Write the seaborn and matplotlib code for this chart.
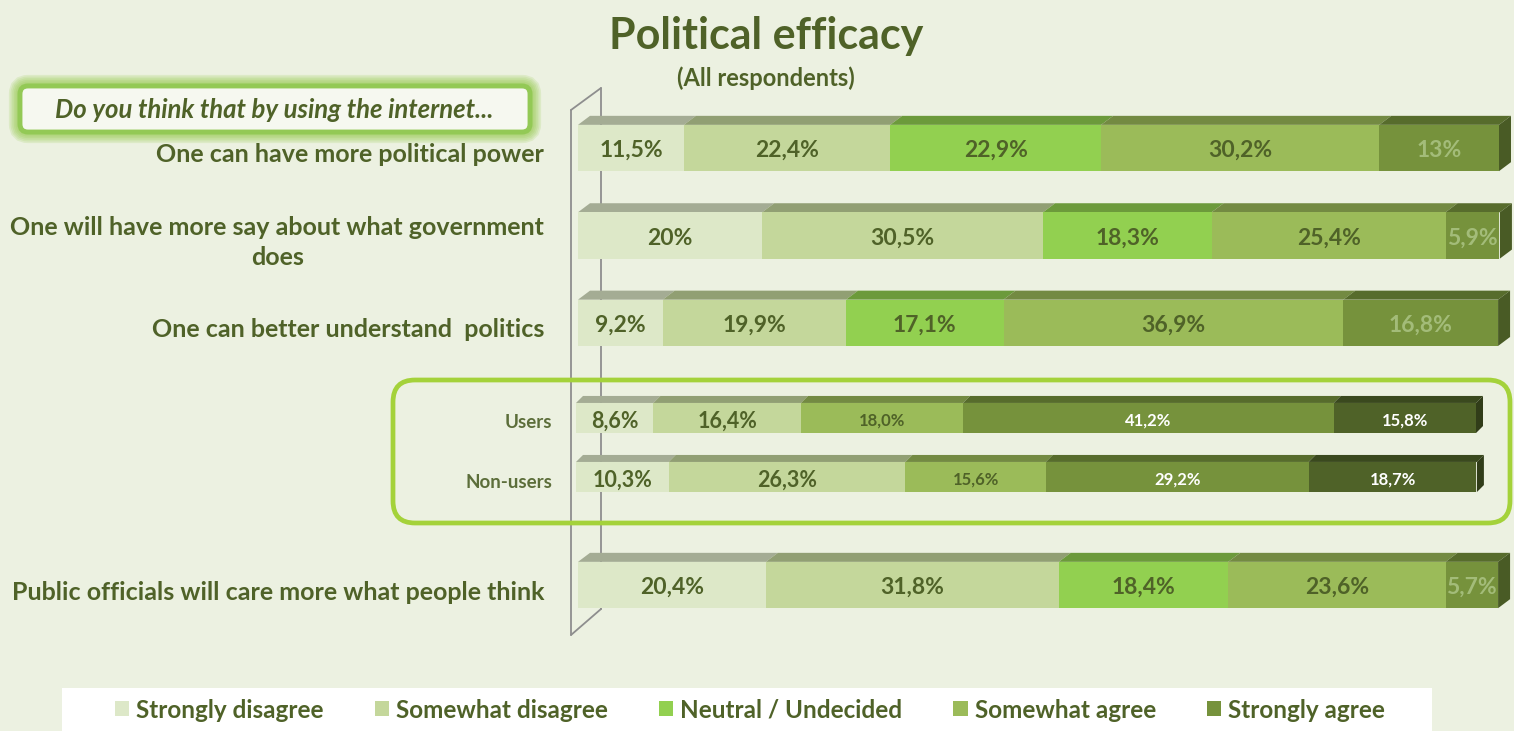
import matplotlib
matplotlib.use("Agg")
import matplotlib.pyplot as plt
from matplotlib.patches import Polygon, FancyBboxPatch, Rectangle, Patch
from matplotlib.lines import Line2D
import pandas as pd
import seaborn as sns

# ---- data -------------------------------------------------------------
levels = ["Strongly disagree", "Somewhat disagree", "Neutral / Undecided",
          "Somewhat agree", "Strongly agree"]

statements = ["One can have more political power",
              "One will have more say about what government\ndoes",
              "One can better understand  politics",
              "Public officials will care more what people think"]
more_power = [11.5, 22.4, 22.9, 30.2, 13.0]
more_say = [20.0, 30.5, 18.3, 25.4, 5.9]
understand = [9.2, 19.9, 17.1, 36.9, 16.8]
officials_care = [20.4, 31.8, 18.4, 23.6, 5.7]

groups = ["Users", "Non-users"]
users = [8.6, 16.4, 18.0, 41.2, 15.8]
non_users = [10.3, 26.3, 15.6, 29.2, 18.7]

main_colors = ["#DDE8C8", "#C4D79B", "#92D050", "#9BBB59", "#76923C"]
group_colors = ["#DDE8C8", "#C4D79B", "#9BBB59", "#76923C", "#4F6228"]

TEXT = "#4F6228"
BG = "#ECF1E1"

# ---- figure -----------------------------------------------------------
sns.set_theme(style="white")
plt.rcParams["font.family"] = ["Lato", "DejaVu Sans"]

W, H = 1514, 731
fig = plt.figure(figsize=(W / 100, H / 100), dpi=100, facecolor=BG)

# background layer in pixel units for frames and the chart wall
bg = fig.add_axes([0, 0, 1, 1], zorder=0)
bg.set_xlim(0, W)
bg.set_ylim(H, 0)
bg.axis("off")


def px_axes(left, right, top, bottom, z):
    return fig.add_axes([left / W, 1 - bottom / H, (right - left) / W,
                         (bottom - top) / H], zorder=z, facecolor="none")


def long_table(names, rows):
    recs = []
    for name, vals in zip(names, rows):
        start = 0.0
        for lvl, v in zip(levels, vals):
            recs.append(dict(item=name, level=lvl, value=v,
                             start=start, end=start + v))
            start += v
    return pd.DataFrame(recs)


def pct(v, keep_decimal):
    if not keep_decimal and float(v).is_integer():
        return f"{int(v)}%"
    return f"{v:.1f}".replace(".", ",") + "%"


def draw_stack(ax, df, order, colors, bar_h):
    # stacked bars: cumulative totals drawn from the longest to the shortest
    for i in reversed(range(len(levels))):
        sub = df[df["level"] == levels[i]]
        sns.barplot(data=sub, x="end", y="item", order=order, orient="h",
                    color=colors[i], saturation=1, width=bar_h,
                    edgecolor="none", linewidth=0, errorbar=None,
                    ax=ax, zorder=3)


def add_depth(ax, df, order, colors, bar_h, dx_px, dy_px):
    # top face and end face of each stacked bar, offset in pixels
    x0, y0 = ax.transData.transform((0, 0))
    inv = ax.transData.inverted()
    base = inv.transform((x0, y0))
    moved = inv.transform((x0 + dx_px, y0 + dy_px))
    ddx, ddy = moved[0] - base[0], moved[1] - base[1]
    h = bar_h / 2
    for _, r in df.iterrows():
        p = order.index(r["item"])
        i = levels.index(r["level"])
        c = matplotlib.colors.to_rgb(colors[i])
        top = tuple(v * 0.74 for v in c)
        yt = p - h
        ax.add_patch(Polygon([(r["start"], yt), (r["end"], yt),
                              (r["end"] + ddx, yt + ddy),
                              (r["start"] + ddx, yt + ddy)],
                             closed=True, fc=top, ec="none",
                             clip_on=False, zorder=2))
        if i == len(levels) - 1:
            side = tuple(v * 0.62 for v in c)
            ax.add_patch(Polygon([(r["end"], yt), (r["end"] + ddx, yt + ddy),
                                  (r["end"] + ddx, p + h + ddy),
                                  (r["end"], p + h)],
                                 closed=True, fc=side, ec="none",
                                 clip_on=False, zorder=2))


def clean(ax, xlim, ylim):
    ax.set_xlim(*xlim)
    ax.set_ylim(*ylim)
    ax.set_xticks([])
    ax.set_yticks([])
    ax.set_xlabel("")
    ax.set_ylabel("")
    for s in ax.spines.values():
        s.set_visible(False)


# ---- chart wall -------------------------------------------------------
wall = dict(color="#8E8E8E", lw=1.3, zorder=1)
bg.add_line(Line2D([571, 571], [110, 635], **wall))
bg.add_line(Line2D([571, 601], [110, 88], **wall))
bg.add_line(Line2D([601, 601], [88, 609], **wall))
bg.add_line(Line2D([571, 601], [635, 609], **wall))

# ---- main statements --------------------------------------------------
main_order = [statements[0], statements[1], statements[2], "", " ",
              statements[3]]
main_df = long_table(statements, [more_power, more_say, understand,
                                  officials_care])
ax = px_axes(578, 1499, 104.3, 628.7, 3)
draw_stack(ax, main_df, main_order, main_colors, 0.53)
clean(ax, (0, 100), (5.5, -0.5))
add_depth(ax, main_df, main_order, main_colors, 0.53, 12, 9)

for _, r in main_df.iterrows():
    p = main_order.index(r["item"])
    i = levels.index(r["level"])
    col = "#A3BC79" if i == 4 else TEXT
    ax.text((r["start"] + r["end"]) / 2, p + 0.03, pct(r["value"], False),
            ha="center", va="center", fontsize=16.5, fontweight="bold",
            color=col, zorder=5, clip_on=False)

for name in statements:
    p = main_order.index(name)
    ax.annotate(name, xy=(0, p), xycoords=("axes fraction", "data"),
                xytext=(-34 * 0.72, -7 * 0.72), textcoords="offset points",
                ha="right", va="center", multialignment="center",
                linespacing=1.35, fontsize=18, fontweight="bold", color=TEXT)

# ---- users vs non-users ----------------------------------------------
grp_df = long_table(groups, [users, non_users])
ax2 = px_axes(576, 1476, 388.5, 506.5, 3)
draw_stack(ax2, grp_df, groups, group_colors, 0.51)
clean(ax2, (0, 100), (1.5, -0.5))
add_depth(ax2, grp_df, groups, group_colors, 0.51, 7, 7)

for _, r in grp_df.iterrows():
    p = groups.index(r["item"])
    i = levels.index(r["level"])
    if i < 2:
        kw = dict(fontsize=15.5, color=TEXT)
    elif i == 2:
        kw = dict(fontsize=12, color=TEXT)
    else:
        kw = dict(fontsize=12, color="white")
    ax2.text((r["start"] + r["end"]) / 2, p + 0.05, pct(r["value"], True),
             ha="center", va="center", fontweight="bold", zorder=5, **kw)

for name in groups:
    p = groups.index(name)
    ax2.annotate(name, xy=(0, p), xycoords=("axes fraction", "data"),
                 xytext=(-24 * 0.72, -5 * 0.72), textcoords="offset points",
                 ha="right", va="center", fontsize=13.5, fontweight="bold",
                 color="#5C6E3A")

# highlight frame around the two groups
bg.add_patch(FancyBboxPatch((415, 402), 1073, 99,
                            boxstyle="round,pad=22", fc="none",
                            ec="#A4D23A", lw=3.4, zorder=1))

# ---- question box -----------------------------------------------------
for k in range(6):
    bg.add_patch(FancyBboxPatch((28, 94), 494, 30, boxstyle="round,pad=8",
                                fc="none", ec="#8DC63F", lw=4 + 2.4 * k,
                                alpha=0.16, zorder=1))
bg.add_patch(FancyBboxPatch((28, 94), 494, 30, boxstyle="round,pad=8",
                            fc="#F6F8F0", ec="#93C955", lw=3.5, zorder=1))
bg.text(274, 110, "Do you think that by using the internet...",
        ha="center", va="center", fontsize=18.5, fontweight="bold",
        fontstyle="italic", color=TEXT, zorder=2)

# ---- titles -----------------------------------------------------------
fig.text(766 / W, 1 - 36 / H, "Political efficacy", ha="center", va="center",
         fontsize=31, fontweight="bold", color=TEXT)
fig.text(766 / W, 1 - 78 / H, "(All respondents)", ha="center", va="center",
         fontsize=17, fontweight="bold", color=TEXT)

# ---- legend -----------------------------------------------------------
bg.add_patch(Rectangle((62, 688), 1370, 50, fc="white", ec="none", zorder=1))
handles = [Patch(fc=c, ec="none") for c in main_colors]
leg = fig.legend(handles, levels, loc="center",
                 bbox_to_anchor=(750 / W, 1 - 710 / H), ncol=5,
                 frameon=False, prop=dict(weight="bold", size=17.5),
                 handlelength=0.58, handleheight=0.58, handletextpad=0.3,
                 columnspacing=2.1, labelcolor=TEXT)
leg.set_zorder(5)

fig.savefig("out.png", dpi=100, facecolor=BG)
